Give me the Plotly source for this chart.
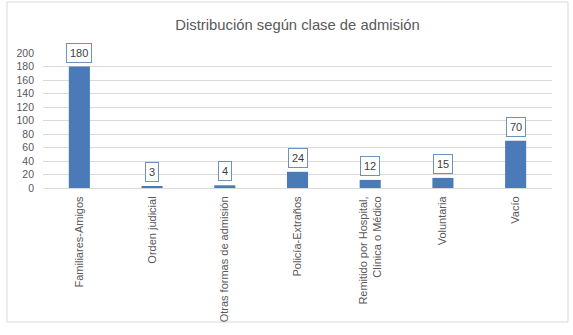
import plotly.graph_objects as go

categories = ["Familiares-Amigos", "Orden judicial", "Otras formas de admisión",
              "Policía-Extraños", "Remitido por Hospital,<br>Clínica o Médico",
              "Voluntaria", "Vacío"]
values = [180, 3, 4, 24, 12, 15, 70]
y_ticks = [0, 20, 40, 60, 80, 100, 120, 140, 160, 180, 200]
title = "Distribución según clase de admisión"

FONT = "Liberation Sans"
GRAY = "#595959"

fig = go.Figure()
fig.add_trace(go.Bar(x=categories, y=values, marker_color="#4a7ab8",
                     marker_line_width=0, hoverinfo="skip"))

for c, v in zip(categories, values):
    fig.add_annotation(x=c, y=v, text=str(v), showarrow=False, yanchor="bottom",
                       yshift=4, bgcolor="white", bordercolor="#6f93b8",
                       borderwidth=1, borderpad=3,
                       font=dict(family=FONT, size=11, color="#404040"))

fig.update_layout(
    width=573, height=335,
    margin=dict(l=43, r=21, t=53, b=147),
    paper_bgcolor="white", plot_bgcolor="white",
    bargap=0.71, showlegend=False,
    title=dict(text=title, x=0.5, xref="paper", xanchor="center",
               y=1 - 25 / 335, yref="container", yanchor="middle",
               font=dict(family=FONT, size=14.8, color=GRAY)),
    font=dict(family=FONT, color=GRAY),
    xaxis=dict(tickangle=-90, tickfont=dict(size=11, color=GRAY, family=FONT),
               showgrid=False, showline=True, linecolor="#d9d9d9", linewidth=1,
               ticks="", fixedrange=True, ticklabelstandoff=3),
    yaxis=dict(range=[0, 200], tickvals=y_ticks, showgrid=True, gridcolor="#d9d9d9",
               gridwidth=1, zeroline=False, showline=False, ticks="",
               tickfont=dict(size=10.5, color=GRAY, family=FONT),
               ticklabelstandoff=8, fixedrange=True),
    shapes=[dict(type="rect", xref="paper", yref="paper",
                 x0=-36 / 509, x1=(568 - 43) / 509, y0=-(322 - 188) / 135,
                 y1=(188 - 2) / 135, line=dict(color="#d9d9d9", width=1),
                 fillcolor="rgba(0,0,0,0)", layer="below")],
)

fig.write_html("out.html", config={"displayModeBar": False},
               post_script="document.body.style.margin='0';document.body.style.overflow='hidden';")
